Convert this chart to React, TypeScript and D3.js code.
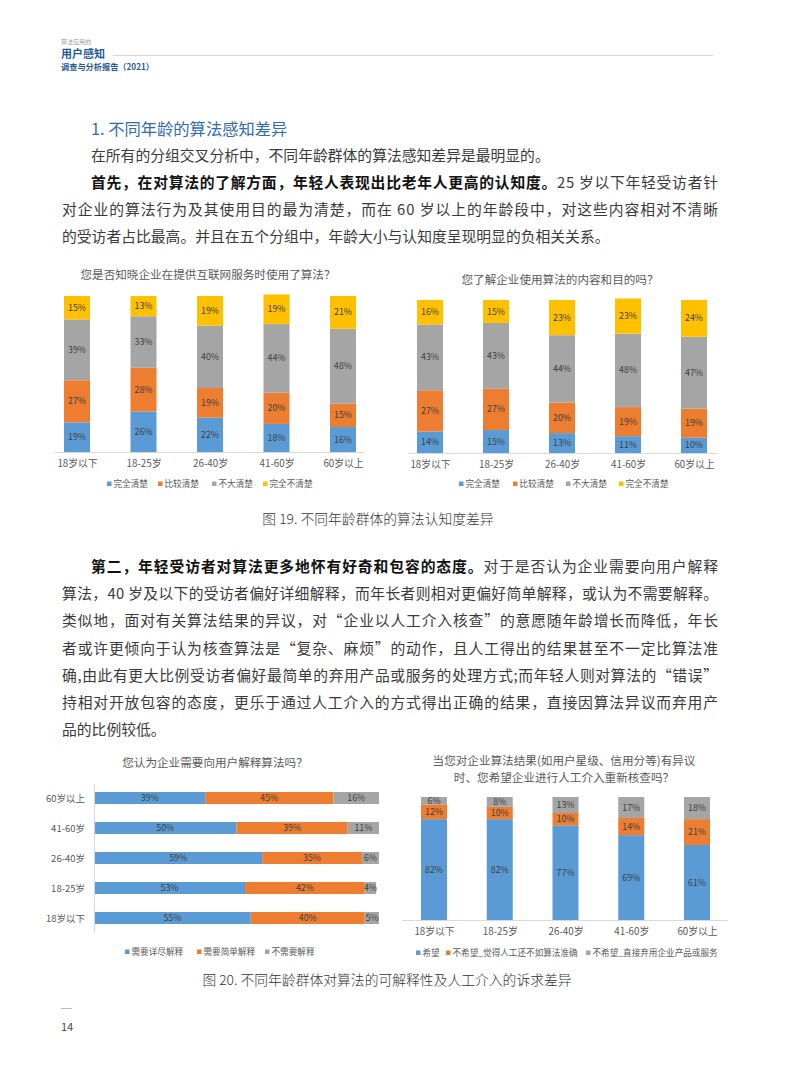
import { useEffect, useRef } from "react";
import * as d3 from "d3";

// ---- data ----
const ages = ["18岁以下", "18-25岁", "26-40岁", "41-60岁", "60岁以上"];
const clarityKeys = ["完全清楚", "比较清楚", "不大清楚", "完全不清楚"];

// 您是否知晓企业在提供互联网服务时使用了算法？
const q1Clear = [19, 26, 22, 18, 16];
const q1Fairly = [27, 28, 19, 20, 15];
const q1Unclear = [39, 33, 40, 44, 48];
const q1NotAtAll = [15, 13, 19, 19, 21];

// 您了解企业使用算法的内容和目的吗？
const q2Clear = [14, 15, 13, 11, 10];
const q2Fairly = [27, 27, 20, 19, 19];
const q2Unclear = [43, 43, 44, 48, 47];
const q2NotAtAll = [16, 15, 23, 23, 24];

// 您认为企业需要向用户解释算法吗？
const explainAges = ["60岁以上", "41-60岁", "26-40岁", "18-25岁", "18岁以下"];
const explainKeys = ["需要详尽解释", "需要简单解释", "不需要解释"];
const explainDetailed = [39, 50, 59, 53, 55];
const explainSimple = [45, 39, 35, 42, 40];
const explainNone = [16, 11, 6, 4, 5];

// 人工介入重新核查
const reviewKeys = ["希望", "不希望_觉得人工还不如算法准确", "不希望_直接弃用企业产品或服务"];
const reviewYes = [82, 82, 77, 69, 61];
const reviewNoWorse = [12, 10, 10, 14, 21];
const reviewNoQuit = [6, 8, 13, 17, 18];

const FONT = "'Noto Sans CJK SC', 'Noto Sans', sans-serif";
const PALETTE = ["#5B9BD5", "#ED7D31", "#A5A5A5", "#FFC000"];

type Part = { t: string; bold?: boolean };
type Line = { x: number; y: number; parts: Part[]; justify?: boolean };

const para1: Line[] = [
  { x: 91, y: 156, parts: [{ t: "在所有的分组交叉分析中，不同年龄群体的算法感知差异是最明显的。" }] },
  {
    x: 91, y: 183, justify: true,
    parts: [
      { t: "首先，在对算法的了解方面，年轻人表现出比老年人更高的认知度。", bold: true },
      { t: "25 岁以下年轻受访者针" },
    ],
  },
  { x: 62, y: 210, justify: true, parts: [{ t: "对企业的算法行为及其使用目的最为清楚，而在 60 岁以上的年龄段中，对这些内容相对不清晰" }] },
  { x: 62, y: 237, parts: [{ t: "的受访者占比最高。并且在五个分组中，年龄大小与认知度呈现明显的负相关关系。" }] },
];

const para2: Line[] = [
  {
    x: 91, y: 567, justify: true,
    parts: [
      { t: "第二，年轻受访者对算法更多地怀有好奇和包容的态度。", bold: true },
      { t: "对于是否认为企业需要向用户解释" },
    ],
  },
  { x: 62, y: 594, justify: true, parts: [{ t: "算法，40 岁及以下的受访者偏好详细解释，而年长者则相对更偏好简单解释，或认为不需要解释。" }] },
  { x: 62, y: 621, justify: true, parts: [{ t: "类似地，面对有关算法结果的异议，对“企业以人工介入核查”的意愿随年龄增长而降低，年长" }] },
  { x: 62, y: 649, justify: true, parts: [{ t: "者或许更倾向于认为核查算法是“复杂、麻烦”的动作，且人工得出的结果甚至不一定比算法准" }] },
  { x: 62, y: 676, justify: true, parts: [{ t: "确,由此有更大比例受访者偏好最简单的弃用产品或服务的处理方式;而年轻人则对算法的“错误”" }] },
  { x: 62, y: 703, justify: true, parts: [{ t: "持相对开放包容的态度，更乐于通过人工介入的方式得出正确的结果，直接因算法异议而弃用产" }] },
  { x: 62, y: 730, parts: [{ t: "品的比例较低。" }] },
];

type Sel = d3.Selection<SVGGElement, unknown, null, undefined>;

interface ColumnCfg {
  title: string[];
  titleX: number;
  titleY: number;
  cats: string[];
  keys: string[];
  series: number[][];
  xFrom: number;
  xTo: number;
  barW: number;
  yTop: number;
  yBase: number;
  axisFrom: number;
  axisTo: number;
  legendY: number;
  legendX: number[];
}

function drawLegend(g: Sel, keys: string[], xs: number[], y: number) {
  keys.forEach((k, i) => {
    g.append("rect")
      .attr("x", xs[i])
      .attr("y", y - 2.5)
      .attr("width", 4.5)
      .attr("height", 4.5)
      .attr("fill", PALETTE[i]);
    g.append("text")
      .attr("x", xs[i] + 6.5)
      .attr("y", y)
      .attr("dy", "0.35em")
      .attr("font-size", 8.6)
      .attr("fill", "#595959")
      .text(k);
  });
}

function drawColumns(root: Sel, c: ColumnCfg) {
  const g = root.append("g").attr("font-family", FONT);

  const x = d3.scalePoint<string>().domain(c.cats).range([c.xFrom, c.xTo]);
  const y = d3.scaleLinear().domain([0, 100]).range([c.yBase, c.yTop]);

  const rows = c.cats.map((cat, i) => {
    const r: Record<string, any> = { cat };
    c.keys.forEach((k, j) => (r[k] = c.series[j][i]));
    return r;
  });
  const layers = d3.stack<Record<string, any>>().keys(c.keys)(rows);

  // title
  c.title.forEach((t, i) => {
    g.append("text")
      .attr("x", c.titleX)
      .attr("y", c.titleY + i * 17)
      .attr("dy", "0.35em")
      .attr("text-anchor", "middle")
      .attr("font-size", 11.6)
      .attr("fill", "#595959")
      .text(t);
  });

  layers.forEach((layer, j) => {
    const lg = g.append("g");
    lg.selectAll("rect")
      .data(layer)
      .join("rect")
      .attr("x", d => (x(d.data.cat) as number) - c.barW / 2)
      .attr("y", d => y(d[1]))
      .attr("width", c.barW)
      .attr("height", d => y(d[0]) - y(d[1]))
      .attr("fill", PALETTE[j]);
    lg.selectAll("text")
      .data(layer)
      .join("text")
      .attr("x", d => x(d.data.cat) as number)
      .attr("y", d => (y(d[0]) + y(d[1])) / 2)
      .attr("dy", "0.35em")
      .attr("text-anchor", "middle")
      .attr("font-size", 8.8)
      .attr("fill", "#404040")
      .text(d => `${d[1] - d[0]}%`);
  });

  // baseline
  g.append("line")
    .attr("x1", c.axisFrom)
    .attr("x2", c.axisTo)
    .attr("y1", c.yBase + 0.5)
    .attr("y2", c.yBase + 0.5)
    .attr("stroke", "#D9D9D9");

  // category axis
  g.append("g")
    .attr("transform", `translate(0,${c.yBase})`)
    .call(d3.axisBottom(x).tickSize(0).tickPadding(8))
    .call(a => a.select(".domain").remove())
    .call(a => a.selectAll(".tick text").attr("font-family", FONT).attr("font-size", 9.8).attr("fill", "#595959"));

  drawLegend(g, c.keys, c.legendX, c.legendY);
}

function drawExplain(root: Sel) {
  const g = root.append("g").attr("font-family", FONT);
  const y = d3.scalePoint<string>().domain(explainAges).range([798, 918]);
  const x = d3.scaleLinear().domain([0, 100]).range([94, 379]);
  const barH = 12;

  const series = [explainDetailed, explainSimple, explainNone];
  const rows = explainAges.map((cat, i) => {
    const r: Record<string, any> = { cat };
    explainKeys.forEach((k, j) => (r[k] = series[j][i]));
    return r;
  });
  const layers = d3.stack<Record<string, any>>().keys(explainKeys)(rows);

  g.append("text")
    .attr("x", 215)
    .attr("y", 763)
    .attr("dy", "0.35em")
    .attr("text-anchor", "middle")
    .attr("font-size", 11.6)
    .attr("fill", "#595959")
    .text("您认为企业需要向用户解释算法吗？");

  layers.forEach((layer, j) => {
    const lg = g.append("g");
    lg.selectAll("rect")
      .data(layer)
      .join("rect")
      .attr("x", d => x(d[0]))
      .attr("y", d => (y(d.data.cat) as number) - barH / 2)
      .attr("width", d => x(d[1]) - x(d[0]))
      .attr("height", barH)
      .attr("fill", PALETTE[j]);
    lg.selectAll("text")
      .data(layer)
      .join("text")
      .attr("x", d => (x(d[0]) + x(d[1])) / 2)
      .attr("y", d => y(d.data.cat) as number)
      .attr("dy", "0.35em")
      .attr("text-anchor", "middle")
      .attr("font-size", 8.8)
      .attr("fill", "#404040")
      .text(d => `${d[1] - d[0]}%`);
  });

  g.append("line")
    .attr("x1", 94.5)
    .attr("x2", 94.5)
    .attr("y1", 784)
    .attr("y2", 933)
    .attr("stroke", "#D9D9D9");

  g.append("g")
    .attr("transform", "translate(94,0)")
    .call(d3.axisLeft(y).tickSize(0).tickPadding(9))
    .call(a => a.select(".domain").remove())
    .call(a => a.selectAll(".tick text").attr("font-family", FONT).attr("font-size", 9.5).attr("fill", "#595959"));

  drawLegend(g, explainKeys, [125, 197, 265], 952);
}

function drawLines(root: Sel, lines: Line[]) {
  const right = 718;
  lines.forEach(l => {
    const t = root.append("text")
      .attr("x", l.x)
      .attr("y", l.y)
      .attr("dy", "0.35em")
      .attr("font-family", FONT)
      .attr("font-size", 14.8)
      .attr("fill", "#3a3a3a");
    if (l.justify) t.attr("textLength", right - l.x).attr("lengthAdjust", "spacing");
    l.parts.forEach(p => {
      t.append("tspan")
        .attr("font-weight", p.bold ? 700 : 400)
        .attr("fill", p.bold ? "#111" : "#3a3a3a")
        .text(p.t);
    });
  });
}

export default function App() {
  const ref = useRef<SVGSVGElement>(null);

  useEffect(() => {
    if (!ref.current) return;
    const svg = d3.select(ref.current);
    svg.selectAll("*").remove();
    const root = svg.append("g") as unknown as Sel;

    // page header
    root.append("text")
      .attr("x", 61).attr("y", 41.5).attr("dy", "0.35em")
      .attr("font-family", FONT).attr("font-size", 6).attr("fill", "#9a9a9a")
      .text("算法应用的");
    root.append("text")
      .attr("x", 61).attr("y", 54.5).attr("dy", "0.35em")
      .attr("font-family", FONT).attr("font-size", 11).attr("font-weight", 700).attr("fill", "#1F5A96")
      .text("用户感知");
    root.append("text")
      .attr("x", 61).attr("y", 67).attr("dy", "0.35em")
      .attr("font-family", FONT).attr("font-size", 8.2).attr("font-weight", 700).attr("fill", "#1F5A96")
      .text("调查与分析报告（2021）");
    root.append("line")
      .attr("x1", 113).attr("x2", 713).attr("y1", 55.5).attr("y2", 55.5)
      .attr("stroke", "#d4d4d4");

    // section heading + text
    root.append("text")
      .attr("x", 91).attr("y", 129).attr("dy", "0.35em")
      .attr("font-family", FONT).attr("font-size", 16.3).attr("fill", "#2F6DB0")
      .text("1. 不同年龄的算法感知差异");
    drawLines(root, para1);

    drawColumns(root, {
      title: ["您是否知晓企业在提供互联网服务时使用了算法？"],
      titleX: 208, titleY: 275,
      cats: ages, keys: clarityKeys,
      series: [q1Clear, q1Fairly, q1Unclear, q1NotAtAll],
      xFrom: 77, xTo: 343, barW: 26, yTop: 296, yBase: 452,
      axisFrom: 55, axisTo: 365,
      legendY: 484, legendX: [107, 158, 212, 263],
    });

    drawColumns(root, {
      title: ["您了解企业使用算法的内容和目的吗？"],
      titleX: 560, titleY: 280,
      cats: ages, keys: clarityKeys,
      series: [q2Clear, q2Fairly, q2Unclear, q2NotAtAll],
      xFrom: 430, xTo: 694, barW: 26, yTop: 300, yBase: 453,
      axisFrom: 408, axisTo: 718,
      legendY: 484, legendX: [459, 513, 566, 619],
    });

    root.append("text")
      .attr("x", 378).attr("y", 519).attr("dy", "0.35em").attr("text-anchor", "middle")
      .attr("font-family", FONT).attr("font-size", 13.8).attr("font-weight", 300).attr("fill", "#333")
      .text("图 19. 不同年龄群体的算法认知度差异");

    drawLines(root, para2);

    drawExplain(root);

    drawColumns(root, {
      title: ["当您对企业算法结果(如用户星级、信用分等)有异议", "时、您希望企业进行人工介入重新核查吗？"],
      titleX: 564, titleY: 761,
      cats: ages, keys: reviewKeys,
      series: [reviewYes, reviewNoWorse, reviewNoQuit],
      xFrom: 434, xTo: 697, barW: 26, yTop: 797, yBase: 920,
      axisFrom: 402, axisTo: 728,
      legendY: 953, legendX: [416, 446, 586],
    });

    root.append("text")
      .attr("x", 387).attr("y", 980).attr("dy", "0.35em").attr("text-anchor", "middle")
      .attr("font-family", FONT).attr("font-size", 13.8).attr("font-weight", 300).attr("fill", "#333")
      .text("图 20. 不同年龄群体对算法的可解释性及人工介入的诉求差异");

    // page number
    root.append("line")
      .attr("x1", 61).attr("x2", 72).attr("y1", 1008.5).attr("y2", 1008.5)
      .attr("stroke", "#bbb");
    root.append("text")
      .attr("x", 61).attr("y", 1027).attr("dy", "0.35em")
      .attr("font-family", FONT).attr("font-size", 11).attr("fill", "#444")
      .text("14");
  }, []);

  return (
    <svg
      ref={ref}
      width={793}
      height={1077}
      style={{ position: "absolute", left: 0, top: 0, background: "#fff" }}
    />
  );
}
